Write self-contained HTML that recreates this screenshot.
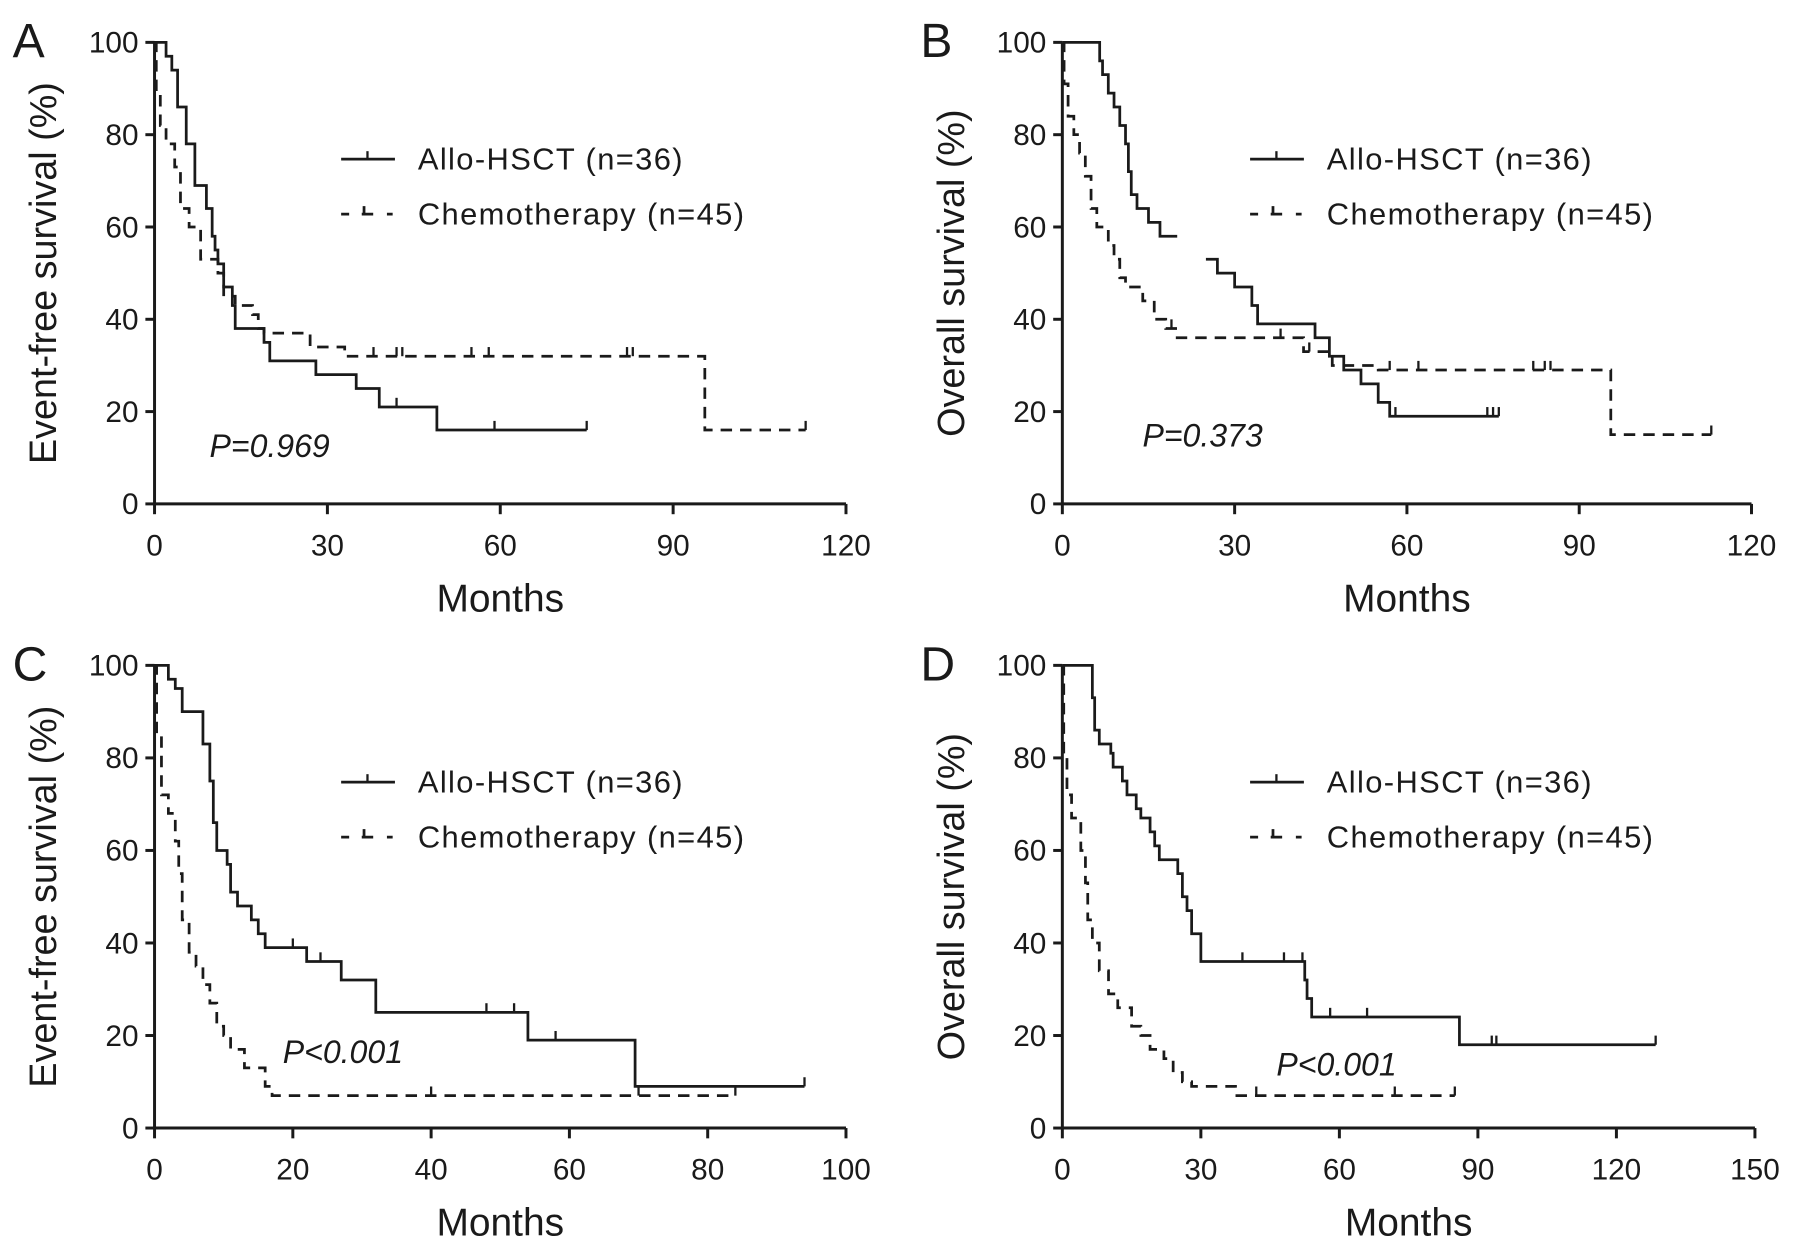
<!DOCTYPE html>
<html><head><meta charset="utf-8">
<style>
html,body{margin:0;padding:0;background:#fff;}
svg{display:block;}
text{font-family:"Liberation Sans",Arial,sans-serif;fill:#1a1a1a;}
</style></head>
<body>
<svg id="fig" width="1795" height="1246" viewBox="0 0 1568 1088" preserveAspectRatio="none" xmlns="http://www.w3.org/2000/svg"></svg>
<script>
// Panel A: event-free survival
const aAlloT=[2,3,4,5.5,7,9,10,10.5,11,12,13.5,14,19,20,28,35,39,49];
const aAlloS=[97,94,86,78,69,64,58,55,52,47,43,38,35,31,28,25,21,16];
const aAlloEnd=75, aAlloCens=[42,59,75];
const aChemoT=[0.3,1,2,3.5,4.5,6,8,11,12,14,17,18,19,27,33,95.5];
const aChemoS=[89,82,78,73,64,60,53,50,45,43,41,38,37,34,32,16];
const aChemoEnd=113, aChemoCens=[38,42,43,55,58,82,83,113];
// Panel B: overall survival
const bAlloT=[6.5,7,8,9,10,11,11.5,12,13,15,17,18,27,30,33,34,44,46.5,49,52,55,57];
const bAlloS=[96,93,89,86,82,78,72,67,64,61,58,58,50,47,43,39,36,32,29,26,22,19];
const bAlloEnd=76, bAlloCens=[34,58,74,75,76], bAlloGap=[20,25], bAlloGapVal=53;
const bChemoT=[0.3,1,2,3,4,5,6,8,9,10,11,14,16,18,20,21,42,47,55,95.5];
const bChemoS=[91,84,80,76,71,64,60,56,53,49,47,44,40,38,36,36,33,30,29,15];
const bChemoEnd=113, bChemoCens=[19,38,43,57,62,82,84,85,113];
// Panel C: event-free survival
const cAlloT=[2,3,4,7,8,8.5,9,10.5,11,12,14,15,16,17,22,27,32,54,69.5];
const cAlloS=[97,95,90,83,75,66,60,57,51,48,45,42,39,39,36,32,25,19,9];
const cAlloEnd=94, cAlloCens=[20,24,48,52,58,94];
const cChemoT=[0.3,1,2,3,3.5,4,5,6,7,8,9,10,11,13,16,17];
const cChemoS=[85,72,68,62,55,45,38,35,31,27,22,20,17,13,9,7];
const cChemoEnd=84, cChemoCens=[40,70,84];
// Panel D: overall survival
const dAlloT=[6.5,7,8,10.5,11,13,14,16,17,19,20,21,25,26,27,28,30,32,52.5,53,54,56,86];
const dAlloS=[93,86,83,81,78,75,72,69,67,64,61,58,55,50,47,42,36,36,32,28,24,24,18];
const dAlloEnd=128.5, dAlloCens=[39,48,52,58,66,93,94,128.5];
const dChemoT=[0.3,1,2,4,5,5.5,6.5,8,10,12,15,17,19,22,24,26,28,37.5];
const dChemoS=[80,72,67,60,53,45,40,34,29,26,22,20,17,15,12,10,9,7];
const dChemoEnd=85, dChemoCens=[42,72,85];

const xTicksA=[0,30,60,90,120], xTicksC=[0,20,40,60,80,100], xTicksD=[0,30,60,90,120,150];
const yTicks=[0,20,40,60,80,100];
const legendLabels=["Allo-HSCT (n=36)","Chemotherapy (n=45)"];

const NS="http://www.w3.org/2000/svg";
const svg=document.getElementById('fig');
function el(tag,attrs,parent){const e=document.createElementNS(NS,tag);for(const k in attrs)e.setAttribute(k,attrs[k]);(parent||svg).appendChild(e);return e;}

const panels=[
 {id:'a',letter:'A',x0:135,x1:739,yTop:37,yBot:440,xmax:120,xt:xTicksA,yt:"Event-free survival (%)",p:"P=0.969",px:183,py:399,lx:298,
  allo:[aAlloT,aAlloS,aAlloEnd,aAlloCens,null,null],chemo:[aChemoT,aChemoS,aChemoEnd,aChemoCens]},
 {id:'b',letter:'B',x0:928,x1:1530,yTop:37,yBot:440,xmax:120,xt:xTicksA,yt:"Overall survival (%)",p:"P=0.373",px:998,py:390,lx:1092,
  allo:[bAlloT,bAlloS,bAlloEnd,bAlloCens,bAlloGap,bAlloGapVal],chemo:[bChemoT,bChemoS,bChemoEnd,bChemoCens]},
 {id:'c',letter:'C',x0:135,x1:739,yTop:581,yBot:985,xmax:100,xt:xTicksC,yt:"Event-free survival (%)",p:"P<0.001",px:247,py:928,lx:298,
  allo:[cAlloT,cAlloS,cAlloEnd,cAlloCens,null,null],chemo:[cChemoT,cChemoS,cChemoEnd,cChemoCens]},
 {id:'d',letter:'D',x0:928,x1:1533,yTop:581,yBot:985,xmax:150,xt:xTicksD,yt:"Overall survival (%)",p:"P<0.001",px:1115,py:939,lx:1092,
  allo:[dAlloT,dAlloS,dAlloEnd,dAlloCens,null,null],chemo:[dChemoT,dChemoS,dChemoEnd,dChemoCens]}
];

function survAt(T,S,t){let s=100;for(let i=0;i<T.length;i++){if(T[i]<=t)s=S[i];}return s;}

panels.forEach(P=>{
 const g=el('g',{});
 
 
 const X=v=>P.x0+(P.x1-P.x0)*v/P.xmax;
 const Y=v=>P.yBot-(P.yBot-P.yTop)*v/100;
 const lbl=el('text',{x:P.x0-124,y:P.yTop+13,'font-size':42},g);lbl.textContent=P.letter;
 
 const ax=el('path',{d:`M${P.x0},${P.yTop}V${P.yBot}H${P.x1}`,stroke:'#1a1a1a','stroke-width':2.6,fill:'none'},g);
 
 yTicks.forEach(v=>{
  el('line',{x1:P.x0-8,x2:P.x0,y1:Y(v),y2:Y(v),stroke:'#1a1a1a','stroke-width':2.6},g);
  const t=el('text',{x:P.x0-14,y:Y(v)+9,'font-size':26,'text-anchor':'end'},g);t.textContent=v;
  
 });
 P.xt.forEach(v=>{
  el('line',{x1:X(v),x2:X(v),y1:P.yBot,y2:P.yBot+9,stroke:'#1a1a1a','stroke-width':2.6},g);
  const t=el('text',{x:X(v),y:P.yBot+45,'font-size':26,'text-anchor':'middle'},g);t.textContent=v;
  
 });
 const xt=el('text',{x:(P.x0+P.x1)/2,y:P.yBot+94,'font-size':34,'text-anchor':'middle'},g);xt.textContent='Months';
 
 const cy=(P.yTop+P.yBot)/2;
 const yt=el('text',{x:0,y:0,'font-size':33,'text-anchor':'middle',transform:`translate(${P.x0-86},${cy}) rotate(-90)`},g);yt.textContent=P.yt;
 
 function curve(T,S,end,cens,gap,gapVal,dashed,name){
  let d=`M${X(0)},${Y(100)}`,s=100;
  T.forEach((t,i)=>{
   const v=S[i];
   if(gap && t>gap[0]){d+=`H${X(gap[0])}M${X(gap[1])},${Y(gapVal)}`;s=gapVal;gap=null;}
   d+=`H${X(t)}V${Y(v)}`;s=v;
  });
  d+=`H${X(end)}`;
  const p=el('path',{d:d,stroke:'#1a1a1a','stroke-width':2.4,fill:'none','stroke-dasharray':dashed?'10 7':'none'},g);
  
  cens.forEach(c=>{const v=survAt(T,S,c);
   const m=el('line',{x1:X(c),x2:X(c),y1:Y(v),y2:Y(v)-8,stroke:'#1a1a1a','stroke-width':2},g);
   });
 }
 curve(P.allo[0],P.allo[1],P.allo[2],P.allo[3],P.allo[4],P.allo[5],false,'allo-hsct-curve');
 curve(P.chemo[0],P.chemo[1],P.chemo[2],P.chemo[3],null,null,true,'chemotherapy-curve');
 const l1y=P.yTop+102, l2y=P.yTop+150;
 const lg=el('g',{},g);
 el('line',{x1:P.lx,x2:P.lx+47,y1:l1y,y2:l1y,stroke:'#1a1a1a','stroke-width':2.4},lg);
 el('line',{x1:P.lx+23,x2:P.lx+23,y1:l1y,y2:l1y-7,stroke:'#1a1a1a','stroke-width':2},lg);
 el('path',{d:`M${P.lx},${l2y}h7M${P.lx+18},${l2y}h10M${P.lx+20},${l2y}v-7M${P.lx+40},${l2y}h5`,stroke:'#1a1a1a','stroke-width':2.4,fill:'none'},lg);
 [l1y,l2y].forEach((yy,i)=>{const t=el('text',{x:P.lx+67,y:yy+9,'font-size':27,'letter-spacing':'1.2'},lg);t.textContent=legendLabels[i];
  });
 const pv=el('text',{x:P.px,y:P.py,'font-size':28,'font-style':'italic'},g);pv.textContent=P.p;
 
});
</script>
</body></html>
